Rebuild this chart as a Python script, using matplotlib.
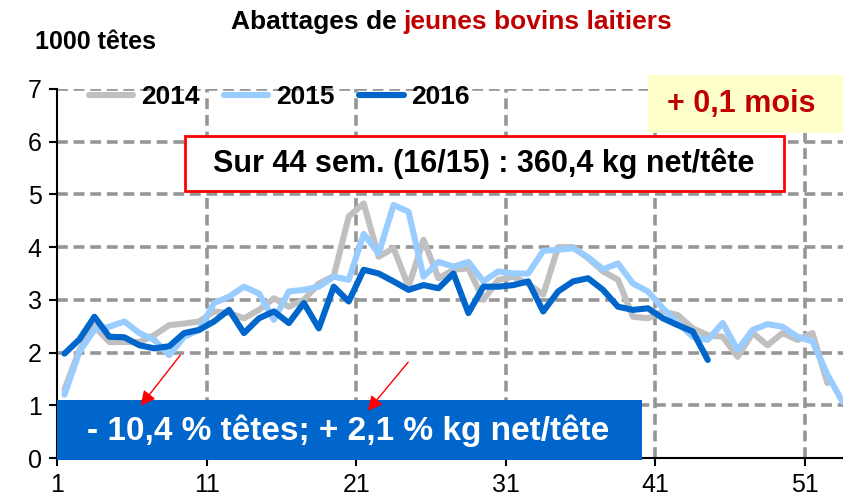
import numpy as np
import matplotlib
matplotlib.use("Agg")
import matplotlib.pyplot as plt
from matplotlib.patches import Rectangle

plt.rcParams['font.family'] = ['Liberation Sans', 'DejaVu Sans']
plt.rcParams['font.weight'] = 'bold'

# données (1000 têtes par semaine)
y2014 = [1.30, 2.05, 2.50, 2.20, 2.20, 2.20, 2.33, 2.52, 2.55, 2.59,
         2.78, 2.75, 2.65, 2.81, 3.03, 2.87, 3.00, 3.31, 3.45, 4.58,
         4.83, 3.82, 3.98, 3.25, 4.14, 3.41, 3.57, 3.60, 3.00, 3.38,
         3.44, 3.30, 3.10, 4.00, 4.00, 3.79, 3.54, 3.38, 2.68, 2.65,
         2.78, 2.71, 2.46, 2.33, 2.30, 1.92, 2.37, 2.14, 2.37, 2.24,
         2.37, 1.42]
y2015 = [1.20, 2.02, 2.43, 2.49, 2.59, 2.37, 2.24, 1.95, 2.30, 2.43,
         2.94, 3.06, 3.25, 3.12, 2.62, 3.16, 3.19, 3.25, 3.44, 3.38,
         4.25, 3.88, 4.80, 4.67, 3.44, 3.72, 3.63, 3.72, 3.35, 3.54,
         3.50, 3.50, 3.93, 3.95, 3.98, 3.81, 3.58, 3.69, 3.31, 3.16,
         2.84, 2.56, 2.30, 2.24, 2.56, 2.05, 2.43, 2.54, 2.49, 2.30,
         2.21, 1.58, 1.07]
y2016 = [1.98, 2.25, 2.68, 2.30, 2.29, 2.14, 2.08, 2.12, 2.37, 2.43,
         2.59, 2.81, 2.37, 2.65, 2.78, 2.56, 2.94, 2.46, 3.25, 2.97,
         3.57, 3.50, 3.35, 3.19, 3.28, 3.22, 3.50, 2.75, 3.25, 3.25,
         3.28, 3.35, 2.78, 3.16, 3.35, 3.41, 3.19, 2.87, 2.81, 2.84,
         2.65, 2.52, 2.40, 1.86]
series = [("2014", y2014, "#C0C0C0"), ("2015", y2015, "#99CCFF"), ("2016", y2016, "#0066CC")]
week_labels = ["1", "11", "21", "31", "41", "51"]

W, H = 843, 500
fig = plt.figure(figsize=(W / 100, H / 100), dpi=100)


def fx(x):
    return x / W


def fy(y):
    return 1 - y / H


ax = fig.add_axes([fx(57), fy(458), fx(843) - fx(57), fy(89) - fy(458)])

for name, vals, col in series:
    weeks = np.arange(1, len(vals) + 1)
    ax.plot(weeks, vals, color=col, lw=4.4, label=name, solid_capstyle='round')

ax.set_xlim(0.5, 0.5 + 786 / 14.96)
ax.set_ylim(0, 7)
ax.set_yticks(range(0, 8))
ax.set_xticks([0.5 + 10 * i for i in range(len(week_labels))])
ax.set_xticklabels(week_labels)
ax.tick_params(axis='both', labelsize=18, length=6, width=1.5, direction='out', pad=5)
for lab in ax.get_xticklabels() + ax.get_yticklabels():
    lab.set_fontweight('normal')

# quadrillage pointillé gris
for v in range(1, 8):
    ax.axhline(v, color='#969696', lw=2.6, ls=(0, (3, 1.6)), zorder=0)
for xt in ax.get_xticks()[1:]:
    ax.axvline(xt, color='#969696', lw=2.6, ls=(0, (3, 1.6)), zorder=0)
ax.spines['top'].set_visible(False)
ax.spines['right'].set_visible(False)
ax.spines['left'].set_linewidth(1.5)
ax.spines['bottom'].set_linewidth(1.5)

leg = ax.legend(loc='upper left', bbox_to_anchor=(0.01, 1.075), ncol=3, frameon=False,
                fontsize=19, handlelength=1.7, handletextpad=0.3, columnspacing=0.9)
for t in leg.get_texts():
    t.set_fontweight('bold')

# titre
fig.text(fx(397), fy(22), "Abattages de", ha='right', va='center', fontsize=19, fontweight='bold', color='black')
fig.text(fx(403), fy(22), "jeunes bovins laitiers", ha='left', va='center', fontsize=19, fontweight='bold', color='#C00000')
fig.text(fx(35), fy(42), "1000 têtes", ha='left', va='center', fontsize=18, fontweight='bold')

# encadré jaune
fig.add_artist(Rectangle((fx(648), fy(133)), fx(843) - fx(648), fy(75) - fy(133),
                         transform=fig.transFigure, facecolor='#FFFFCC', edgecolor='none', zorder=3))
fig.text(fx(741), fy(104), "+ 0,1 mois", ha='center', va='center', fontsize=22, fontweight='bold',
         color='#C00000', zorder=4)

# encadré rouge
fig.add_artist(Rectangle((fx(185), fy(191)), fx(784) - fx(185), fy(136) - fy(191),
                         transform=fig.transFigure, facecolor='white', edgecolor='#FF0000', lw=2, zorder=3))
fig.text(fx(484), fy(163), "Sur 44 sem. (16/15) : 360,4 kg net/tête", ha='center', va='center',
         fontsize=22, fontweight='bold', zorder=4)

# encadré bleu
fig.add_artist(Rectangle((fx(57), fy(460)), fx(642) - fx(57), fy(400) - fy(460),
                         transform=fig.transFigure, facecolor='#0066CC', edgecolor='none', zorder=3))
fig.text(fx(348), fy(431), "- 10,4 % têtes; + 2,1 % kg net/tête", ha='center', va='center',
         fontsize=24, fontweight='bold', color='white', zorder=4)

# flèches
for (x0, y0, x1, y1) in [(182, 353, 139, 408), (410, 360, 366, 413)]:
    fig.add_artist(matplotlib.patches.FancyArrowPatch((fx(x0), fy(y0)), (fx(x1), fy(y1)),
                                                      transform=fig.transFigure, arrowstyle='-|>',
                                                      mutation_scale=22, color='#FF0000', lw=1, zorder=5))

fig.savefig("out.png", dpi=100)
